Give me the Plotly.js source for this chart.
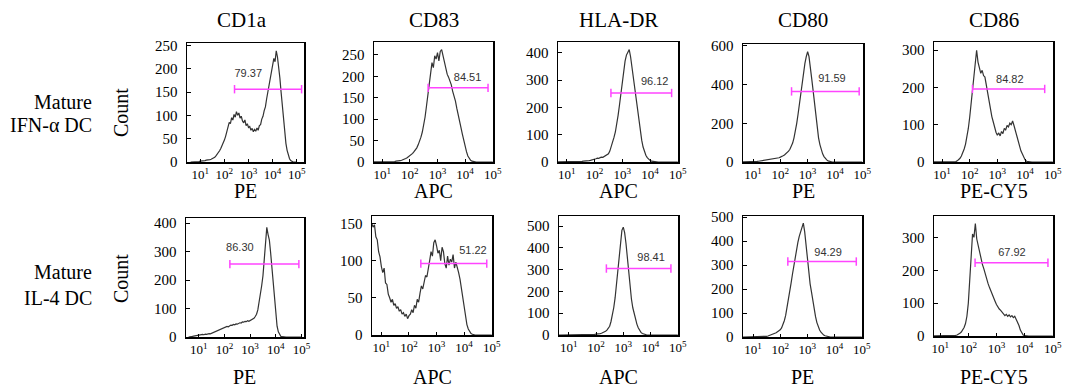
<!DOCTYPE html>
<html><head><meta charset="utf-8">
<script src="https://cdn.plot.ly/plotly-3.0.1.min.js"></script>
<style>html,body{margin:0;padding:0;background:#fff}</style>
</head><body><div id="chart" style="width:1067px;height:387px"></div>
<script>
// ---------- DATA ----------
const markers = ["CD1a", "CD83", "HLA-DR", "CD80", "CD86"];
const channels = ["PE", "APC", "APC", "PE", "PE-CY5"];
const rowLabels = [["Mature", "IFN-\u03b1 DC"], ["Mature", "IL-4 DC"]];
const tickLabels = ["10<sup>1</sup>", "10<sup>2</sup>", "10<sup>3</sup>", "10<sup>4</sup>", "10<sup>5</sup>"];
const tickValues = [1e1, 1e2, 1e3, 1e4, 1e5];

// histogram bins: log10 of fluorescence, 0.60 ... 5.00 in steps of 0.05
const binLog = [];
for (let i = 0; i <= 88; i++) binLog.push(+(0.6 + 0.05 * i).toFixed(2));

// Mature IFN-alpha DC counts
const ifnCD1a = [0,0,0,0,0,1,1,1,2, 2,2,3,3,4,4,5,5,6,7, 8,10,13,16,20,24,29,34,40,47,
  55,64,74,85,82,95,90,102,96,108, 100,105,94,98,88,84,90,78,82,74,
  76,68,72,65,70,66,73,68,78,80, 92,98,110,118,135,150,165,185,200,212,
  222,215,238,225,205,180,150,120,90,62, 40,25,14,7,3,1,0,0,0,0];
const ifnCD83 = [0,0,0,0,0,0,0,0,0, 0,0,0,0,0,0,0,1,1,2, 2,3,3,4,5,6,8,10,12,14,
  17,20,24,28,33,40,48,58,70,84, 105,130,158,185,210,232,220,248,240,255,
  236,258,262,248,230,220,205,198,190,180, 165,155,142,125,112,95,80,65,50,36,
  24,14,8,4,2,1,0,0,0,0, 0,0,0,0,0,0,0,0,0,0];
const ifnHLADR = [0,0,0,0,0,0,0,0,0, 0,0,0,0,0,1,1,1,2,2, 2,3,3,4,4,5,6,7,8,10,
  12,14,13,16,18,17,20,22,26,30, 40,55,70,90,110,135,172,210,255,300,
  340,370,392,405,412,385,345,310,275,225, 180,140,108,80,55,38,25,16,10,6,
  3,2,1,0,0,0,0,0,0,0, 0,0,0,0,0,0,0,0,0,0];
const ifnCD80 = [0,0,0,0,0,1,1,1,2, 2,3,3,4,5,5,6,7,8,9, 10,11,12,14,15,16,18,20,22,25,
  27,32,36,42,48,56,66,80,98,125, 157,200,248,300,355,420,470,510,545,570,
  545,500,430,370,300,235,175,125,90,62, 42,28,18,11,6,3,1,0,0,0,
  0,0,0,0,0,0,0,0,0,0, 0,0,0,0,0,0,0,0,0,0];
const ifnCD86 = [0,0,0,0,0,0,0,0,0, 0,0,0,0,0,0,0,0,1,1, 3,6,10,16,24,35,48,65,90,120,
  155,185,225,262,300,268,248,238,246,232, 228,205,180,160,140,122,108,92,80,72,
  78,70,82,76,90,86,98,94,104,100, 110,98,84,66,52,40,30,22,13,6,
  2,1,0,0,0,0,0,0,0,0, 0,0,0,0,0,0,0,0,0,0];

// Mature IL-4 DC counts
const il4CD1a = [0,0,1,2,3,4,5,6,7, 7,8,9,8,10,9,11,12,11,13, 14,16,18,20,22,25,27,30,32,34,
  35,37,36,40,42,41,44,43,46,45, 48,50,49,53,52,55,54,57,55,58,
  60,62,66,72,80,95,120,150,180,215, 265,330,385,360,340,295,240,175,120,75,
  38,18,7,2,1,0,0,0,0,0, 0,0,0,0,0,0,0,0,0,0];
const il4CD83 = [152,150,145,148,132,128,112,105,92, 84,90,70,68,55,50,44,48,40,42,
  36,38,32,34,28,30,25,28,22,26, 28,34,30,40,36,48,44,56,66,62,
  74,80,78,92,100,112,106,124,128,120, 110,114,100,118,112,96,90,106,94,102,
  98,108,90,98,92,84,75,62,48,36, 24,14,8,4,2,1,0,0,0,0, 0,0,0,0,0,0,0,0,0,0];
const il4HLADR = [0,0,0,0,0,0,0,0,0, 0,0,0,0,0,0,0,1,1,1, 1,1,1,2,2,2,3,3,3,4,
  4,5,6,8,10,13,17,22,30,40, 62,88,125,170,230,300,370,440,480,495,
  470,420,360,290,210,165,125,95,70,50, 33,20,12,7,4,2,1,0,0,0,
  0,0,0,0,0,0,0,0,0,0, 0,0,0,0,0,0,0,0,0,0];
const il4CD80 = [0,0,0,0,0,0,0,0,0, 0,0,0,0,1,1,1,2,2,3, 4,6,8,10,12,15,18,22,25,30,
  38,50,68,90,120,152,188,225,262,300, 335,368,395,420,440,455,475,440,380,318,
  265,222,188,150,115,85,60,42,29,20, 13,8,5,3,1,0,0,0,0,0,
  0,0,0,0,0,0,0,0,0,0, 0,0,0,0,0,0,0,0,0,0];
const il4CD86 = [0,0,0,0,0,0,0,0,0, 0,0,0,0,0,0,0,0,1,1, 2,3,5,8,12,18,26,38,60,100,
  180,265,310,300,342,295,275,248,232,218, 205,188,176,160,148,136,125,115,106,96,
  88,82,78,72,68,62,66,60,64,58, 62,56,60,52,44,32,18,9,3,1,
  0,0,0,0,0,0,0,0,0,0, 0,0,0,0,0,0,0,0,0,0];

// gates (log10 bounds, count level) and percentages
const ifnGateLo = [2.42, 2.66, 2.59, 2.41, 2.10];
const ifnGateHi = [5.20, 4.83, 4.78, 4.89, 4.71];
const ifnGateY  = [156, 173, 253, 365, 196];
const ifnPct    = ["79.37", "84.51", "96.12", "91.59", "84.82"];
const il4GateLo = [2.21, 2.43, 2.38, 2.28, 2.24];
const il4GateHi = [4.90, 4.82, 4.75, 4.80, 4.83];
const il4GateY  = [256, 96, 305, 315, 223];
const il4Pct    = ["86.30", "51.22", "98.41", "94.29", "67.92"];

// ---------- LAYOUT / STYLE ----------
const W = 1067, H = 387;
const SERIF = "Liberation Serif, Times New Roman, serif";
const SANS = "Liberation Sans, Arial, sans-serif";
const MAG = "#ff44ff";
// panel boxes [left, right, top, bottom] in px
const boxes = [
  [[187,304,43,162],[374,493,42,162],[558,678,42,162],[743,863,44,162],[934,1053,42,162]],
  [[186,304,218,337],[372,492,216,335],[559,678,216,335],[743,862,216,337],[934,1053,216,336]]
];
const xRanges = [
  [[0.45,5.3],[0.7,5.01],[0.68,5.01],[0.63,5.03],[0.71,5.01]],
  [[0.5,5.1],[0.66,5.01],[0.64,5.01],[0.63,5.01],[0.78,5.01]]
];
const yMax = [[255,280,440,610,322],[418,160,546,505,365]];
const yDtick = [[50,50,100,200,100],[100,50,100,100,100]];
// gate label placement (log x, count y)
const labelPos = [
  [[2.99,187],[4.09,196],[4.17,293],[3.89,429],[3.45,220]],
  [[2.60,313],[4.32,112],[4.02,353],[3.76,351],[3.55,252]]
];

const counts = [[ifnCD1a, ifnCD83, ifnHLADR, ifnCD80, ifnCD86],[il4CD1a, il4CD83, il4HLADR, il4CD80, il4CD86]];
const gates = [[ifnGateLo, ifnGateHi, ifnGateY, ifnPct],[il4GateLo, il4GateHi, il4GateY, il4Pct]];
const binX = binLog.map(v => Math.pow(10, v));

const traces = [];
const layout = {
  width: W, height: H, margin: {l:0, r:0, t:0, b:0},
  paper_bgcolor: "#fff", plot_bgcolor: "#fff", showlegend: false,
  annotations: []
};

for (let r = 0; r < 2; r++) {
  for (let c = 0; c < 5; c++) {
    const k = r * 5 + c;
    const s = k === 0 ? "" : String(k + 1);
    const xa = "x" + s, ya = "y" + s;
    const [L, R, T, B] = boxes[r][c];
    traces.push({
      x: binX, y: counts[r][c], xaxis: xa, yaxis: ya, type: "scatter", mode: "lines",
      line: {color: "#333", width: 1.2}, hoverinfo: "skip"
    });
    const [lo, hi, gy, pct] = gates[r];
    traces.push({
      x: [Math.pow(10, lo[c]), Math.pow(10, hi[c])], y: [gy[c], gy[c]], xaxis: xa, yaxis: ya,
      type: "scatter", mode: "lines+markers",
      line: {color: MAG, width: 1.5},
      marker: {symbol: "line-ns-open", size: 6, color: MAG, line: {color: MAG, width: 1.5}},
      hoverinfo: "skip"
    });
    traces.push({
      x: [Math.pow(10, labelPos[r][c][0])], y: [labelPos[r][c][1]], xaxis: xa, yaxis: ya,
      type: "scatter", mode: "text", text: [pct[c]], textposition: "middle center",
      textfont: {family: SANS, size: 11, color: "#333"}, hoverinfo: "skip"
    });
    layout["xaxis" + s] = {
      domain: [L / W, R / W], anchor: ya, type: "log", range: xRanges[r][c],
      tickmode: "array", tickvals: tickValues, ticktext: tickLabels,
      ticks: "inside", ticklen: 3, tickwidth: 1, tickcolor: "#000",
      showline: true, mirror: true, linecolor: "#000", linewidth: 1.5,
      showgrid: false, zeroline: false, fixedrange: true,
      tickfont: {family: SERIF, size: 13, color: "#000"}, ticklabelstandoff: 0
    };
    layout["yaxis" + s] = {
      domain: [1 - B / H, 1 - T / H], anchor: xa, range: [0, yMax[r][c]],
      tick0: 0, dtick: yDtick[r][c], ticks: "inside", ticklen: 4, tickwidth: 1, tickcolor: "#000",
      showline: true, mirror: true, linecolor: "#000", linewidth: 1.5,
      showgrid: false, zeroline: false, fixedrange: true,
      tickfont: {family: SERIF, size: 15, color: "#000"}, ticklabelstandoff: 5
    };
    // x-axis channel title
    layout.annotations.push({
      xref: "paper", yref: "paper", x: (L + R) / 2 / W, y: 1 - (r === 0 ? 191 : 377) / H,
      xanchor: "center", yanchor: "middle", showarrow: false, text: channels[c],
      font: {family: SERIF, size: 20, color: "#000"}
    });
    if (r === 0) {
      layout.annotations.push({
        xref: "paper", yref: "paper", x: ((L + R) / 2 - (c === 0 ? 4 : 0)) / W, y: 1 - 20 / H,
        xanchor: "center", yanchor: "middle", showarrow: false, text: markers[c],
        font: {family: SERIF, size: 21, color: "#000"}
      });
    }
  }
}

// Count labels and row labels
const countY = [113, 279];
const rowY = [[102, 125], [272, 298]];
for (let r = 0; r < 2; r++) {
  layout.annotations.push({
    xref: "paper", yref: "paper", x: 121 / W, y: 1 - countY[r] / H, textangle: -90,
    xanchor: "center", yanchor: "middle", showarrow: false, text: "Count",
    font: {family: SERIF, size: 20, color: "#000"}
  });
  for (let j = 0; j < 2; j++) {
    layout.annotations.push({
      xref: "paper", yref: "paper", x: 94 / W, y: 1 - rowY[r][j] / H,
      xanchor: "right", yanchor: "middle", showarrow: false, text: rowLabels[r][j],
      font: {family: SERIF, size: 20, color: "#000"}
    });
  }
}

Plotly.newPlot("chart", traces, layout, {displayModeBar: false, staticPlot: true});
</script></body></html>
